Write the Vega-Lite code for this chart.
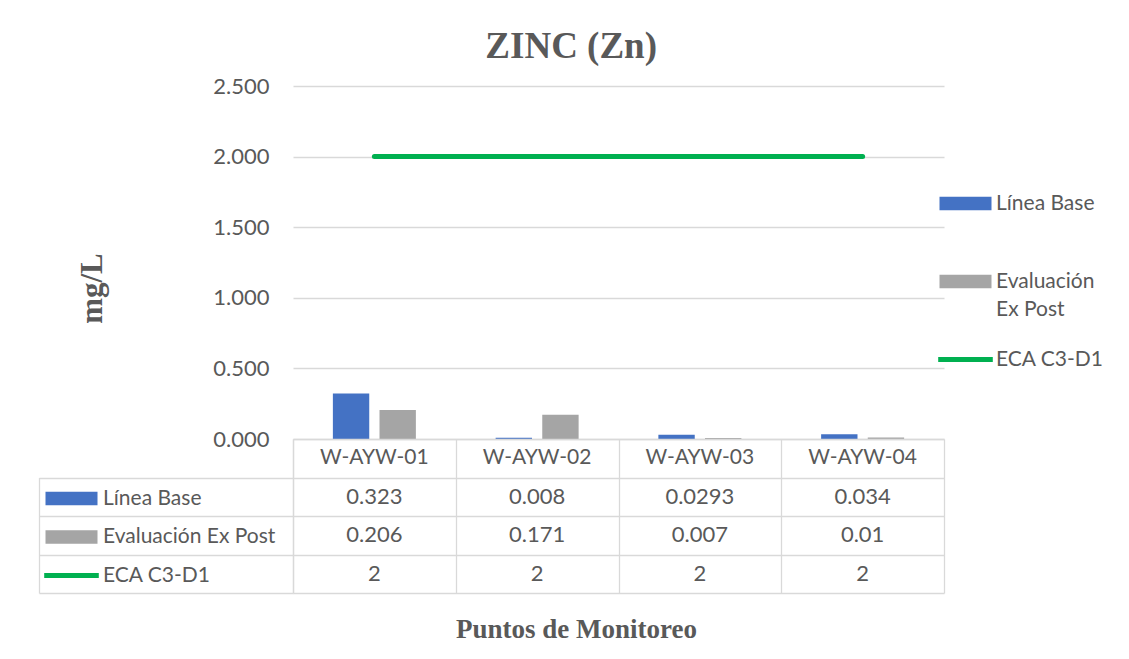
{
  "$schema": "https://vega.github.io/schema/vega-lite/v6.json",
  "background": "white",
  "padding": {"left": 38, "top": 27, "right": 5, "bottom": 5},
  "title": {"text": "ZINC (Zn)", "font": "Liberation Serif", "fontSize": 37, "fontWeight": "bold", "color": "#595959", "anchor": "middle", "offset": 9.5, "dx": 0},
  "datasets": {
    "zn": [
      {"punto": "W-AYW-01", "serie": "Línea Base", "valor": 0.323},
      {"punto": "W-AYW-02", "serie": "Línea Base", "valor": 0.008},
      {"punto": "W-AYW-03", "serie": "Línea Base", "valor": 0.0293},
      {"punto": "W-AYW-04", "serie": "Línea Base", "valor": 0.034},
      {"punto": "W-AYW-01", "serie": "Evaluación Ex Post", "valor": 0.206},
      {"punto": "W-AYW-02", "serie": "Evaluación Ex Post", "valor": 0.171},
      {"punto": "W-AYW-03", "serie": "Evaluación Ex Post", "valor": 0.007},
      {"punto": "W-AYW-04", "serie": "Evaluación Ex Post", "valor": 0.01},
      {"punto": "W-AYW-01", "serie": "ECA C3-D1", "valor": 2},
      {"punto": "W-AYW-02", "serie": "ECA C3-D1", "valor": 2},
      {"punto": "W-AYW-03", "serie": "ECA C3-D1", "valor": 2},
      {"punto": "W-AYW-04", "serie": "ECA C3-D1", "valor": 2}
    ]
  },
  "data": {"name": "zn"},
  "spacing": 0,
  "bounds": "flush",
  "resolve": {"legend": {"color": "independent"}},
  "vconcat": [
    {
      "width": 651,
      "height": 353,
      "layer": [
        {
          "transform": [{"filter": "datum.serie !== 'ECA C3-D1'"}],
          "mark": {"type": "bar"},
          "encoding": {
            "x": {"field": "punto", "type": "nominal", "scale": {"paddingInner": 0.49, "paddingOuter": 0.245}, "axis": null},
            "xOffset": {"field": "serie", "type": "nominal", "scale": {"domain": ["Línea Base", "Evaluación Ex Post"], "paddingInner": 0.22, "paddingOuter": 0}},
            "y": {
              "field": "valor", "type": "quantitative",
              "scale": {"domain": [0, 2.5], "nice": false},
              "axis": {
                "values": [0, 0.5, 1, 1.5, 2, 2.5], "format": ".3f",
                "grid": true, "gridColor": "#D9D9D9", "gridWidth": 1.3,
                "domain": false, "ticks": false, "labelPadding": 24,
                "labelFont": "Lato", "labelFontSize": 22, "labelColor": "#595959",
                "title": "mg/L", "titleFont": "Liberation Serif", "titleFontSize": 31, "titleFontWeight": "bold", "titleColor": "#595959",
                "titleX": -192, "titleY": 202, "titleAngle": 270, "titleBaseline": "alphabetic", "titleAlign": "center"
              }
            },
            "color": {
              "field": "serie", "type": "nominal",
              "scale": {"domain": ["Línea Base", "Evaluación Ex Post", "ECA C3-D1"], "range": ["#4472C4", "#A5A5A5", "#00B050"]},
              "legend": {
                "orient": "none", "legendX": 662, "legendY": 107, "title": null, "padding": 0,
                "labelFont": "Lato", "labelFontSize": 21, "labelColor": "#595959", "labelLimit": 300,
                "symbolSize": 169, "labelOffset": 20, "rowPadding": 28, "gridAlign": "all", "symbolOpacity": 1, "symbolStrokeWidth": 0,
                "labelExpr": "datum.label === 'Evaluación Ex Post' ? ['Evaluación', 'Ex Post'] : datum.label",
                "encoding": {
                  "symbols": {
                    "shape": {"condition": {"test": "datum.value === 'ECA C3-D1'", "value": "M-4.2,-0.38H4.2V0.38H-4.2Z"}, "value": "M-4,-1.05H4V1.05H-4Z"}
                  },
                  "labels": {
                    "lineHeight": {"value": 28}
                  }
                }
              }
            }
          }
        },
        {
          "transform": [{"filter": "datum.serie === 'ECA C3-D1'"}],
          "mark": {"type": "line", "color": "#00B050", "strokeWidth": 5, "strokeCap": "round"},
          "encoding": {
            "x": {"field": "punto", "type": "nominal"},
            "y": {"field": "valor", "type": "quantitative"}
          }
        }
      ]
    },
    {
      "width": 651,
      "height": 154,
      "encoding": {
        "x": {
          "field": "punto", "type": "nominal",
          "scale": {"paddingInner": 0, "paddingOuter": 0},
          "axis": {
            "labels": false, "ticks": false, "domain": false,
            "grid": true, "tickBand": "extent", "gridColor": "#D9D9D9", "gridWidth": 1.3,
            "title": "Puntos de Monitoreo", "titleFont": "Liberation Serif", "titleFontSize": 27, "titleFontWeight": "bold", "titleColor": "#595959",
            "titlePadding": 23, "titleX": 283, "titleAlign": "center"
          }
        }
      },
      "layer": [
        {
          "transform": [{"filter": "datum.serie === 'Línea Base'"}],
          "mark": {"type": "text", "font": "Lato", "fontSize": 21, "color": "#595959"},
          "encoding": {
            "y": {
              "datum": "encabezado", "type": "nominal",
              "scale": {"domain": ["encabezado", "Línea Base", "Evaluación Ex Post", "ECA C3-D1"], "paddingInner": 0, "paddingOuter": 0},
              "axis": {"labels": false, "ticks": false, "domain": true, "domainColor": "#D9D9D9", "domainWidth": 1.3, "grid": true, "tickBand": "extent", "gridColor": "#D9D9D9", "gridWidth": 1.3, "title": null}
            },
            "text": {"field": "punto", "type": "nominal"}
          }
        },
        {
          "mark": {"type": "text", "font": "Lato", "fontSize": 22, "color": "#595959"},
          "encoding": {
            "y": {
              "field": "serie", "type": "nominal",
              "scale": {"domain": ["Línea Base", "Evaluación Ex Post", "ECA C3-D1"], "range": [38.5, 154], "paddingInner": 0, "paddingOuter": 0},
              "axis": {"orient": "left", "offset": 254, "labels": false, "ticks": true, "tickBand": "extent", "tickSize": -254, "tickColor": "#D9D9D9", "tickWidth": 1.3, "domain": true, "domainColor": "#D9D9D9", "domainWidth": 1.3, "grid": false, "title": null}
            },
            "text": {"field": "valor", "type": "nominal"}
          }
        },
        {
          "mark": {"type": "point", "filled": true, "opacity": 0},
          "encoding": {
            "y": {"field": "serie", "type": "nominal", "axis": null},
            "color": {
              "field": "serie", "type": "nominal",
              "scale": {"domain": ["Línea Base", "Evaluación Ex Post", "ECA C3-D1"], "range": ["#4472C4", "#A5A5A5", "#00B050"]},
              "legend": {
                "orient": "none", "legendX": -232, "legendY": 49, "title": null, "padding": 0,
                "labelFont": "Lato", "labelFontSize": 21, "labelColor": "#595959", "labelLimit": 300,
                "symbolSize": 169, "labelOffset": 21, "rowPadding": 16.5, "symbolOpacity": 1, "symbolStrokeWidth": 0,
                "encoding": {
                  "symbols": {
                    "shape": {"condition": {"test": "datum.value === 'ECA C3-D1'", "value": "M-4.2,-0.38H4.2V0.38H-4.2Z"}, "value": "M-4,-1.05H4V1.05H-4Z"},
                    "opacity": {"value": 1}
                  }
                }
              }
            }
          }
        }
      ],
      "resolve": {"scale": {"y": "independent"}, "axis": {"y": "independent"}}
    }
  ],
  "config": {
    "view": {"stroke": null},
    "font": "Lato"
  }
}
